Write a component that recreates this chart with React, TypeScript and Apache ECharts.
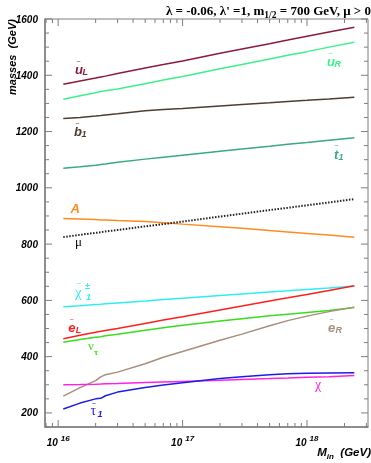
import React, { useEffect, useRef } from "react";
import * as echarts from "echarts";

// M_in (GeV) sample points
const M_IN = [1.1e16, 1.5e16, 2e16, 2.2e16, 2.4e16, 3e16, 5e16, 7e16, 1e17, 2e17, 3e17, 5e17, 7e17, 1e18, 1.5e18, 2.4e18];
// masses (GeV)
const U_L = [1368, 1380, 1390, 1394, 1397, 1406, 1426, 1438, 1451, 1478, 1493, 1512, 1525, 1539, 1554, 1571];
const U_R = [1315, 1327, 1338, 1342, 1345, 1351, 1370, 1383, 1396, 1423, 1438, 1458, 1471, 1484, 1500, 1517];
const B_1 = [1246, 1250, 1255, 1257, 1259, 1263, 1274, 1278, 1282, 1291, 1296, 1302, 1307, 1311, 1316, 1322];
const T_1 = [1070, 1075, 1080, 1083, 1085, 1091, 1102, 1109, 1116, 1130, 1138, 1148, 1155, 1161, 1169, 1178];
const A_H = [891, 889, 887, 886, 886, 884, 880, 876, 871, 862, 856, 848, 843, 838, 832, 824];
const MU = [825, 833, 840, 842, 845, 850, 863, 871, 880, 898, 908, 921, 929, 938, 948, 960];
const CHI_PM = [577, 581, 585, 586, 588, 591, 598, 603, 608, 617, 623, 630, 634, 639, 644, 651];
const E_L = [464, 476, 487, 490, 493, 500, 518, 530, 542, 566, 580, 598, 609, 621, 635, 652];
const NU_TAU = [451, 461, 469, 471, 474, 480, 494, 503, 512, 527, 535, 545, 551, 557, 564, 575];
const E_R = [260, 290, 315, 328, 336, 345, 375, 398, 418, 458, 480, 510, 528, 544, 560, 576];
const CHI_0 = [300, 301, 302, 303, 304, 305, 308, 310, 312, 316, 319, 322, 324, 327, 329, 333];
const TAU_1 = [214, 235, 250, 252, 261, 274, 290, 299, 307, 322, 329, 336, 339, 341, 342, 343];

// axes
const X_MIN = 7.84e15;
const X_MAX = 3.09e18;
const Y_MIN = 150;
const Y_MAX = 1600;
const X_MAJOR = [1e16, 1e17, 1e18];
const X_MINOR = [8e15, 9e15, 2e16, 3e16, 4e16, 5e16, 6e16, 7e16, 8e16, 9e16, 2e17, 3e17, 4e17, 5e17, 6e17, 7e17, 8e17, 9e17, 2e18, 3e18];
const Y_MAJOR = [200, 400, 600, 800, 1000, 1200, 1400, 1600];
const Y_MINOR = [150, 250, 300, 350, 450, 500, 550, 650, 700, 750, 850, 900, 950, 1050, 1100, 1150, 1250, 1300, 1350, 1450, 1500, 1550];

const SANS = "'Liberation Sans', Arial, sans-serif";
const SERIF = "'Liberation Serif', 'Times New Roman', serif";
const AXIS_GREY = "#7f7f7f";

const SERIES = [
  { name: "uL", data: U_L, color: "#8c1b3b" },
  { name: "uR", data: U_R, color: "#3cf08a" },
  { name: "b1", data: B_1, color: "#4d3d33" },
  { name: "t1", data: T_1, color: "#3aa887" },
  { name: "A", data: A_H, color: "#ff8a1f" },
  { name: "chipm", data: CHI_PM, color: "#2eeef2" },
  { name: "eL", data: E_L, color: "#ff1f1f" },
  { name: "nu", data: NU_TAU, color: "#3bdc1e" },
  { name: "eR", data: E_R, color: "#a88e7c" },
  { name: "chi0", data: CHI_0, color: "#ff22e6" },
  { name: "tau1", data: TAU_1, color: "#1c1ce8" },
];

function t(x: number, y: number, text: string, size: number, color: string, family = SANS, style = "italic", weight = "bold") {
  return {
    type: "text",
    x,
    y,
    silent: true,
    style: {
      text,
      fill: color,
      fontSize: size,
      fontFamily: family,
      fontStyle: style,
      fontWeight: weight,
      align: "left",
      verticalAlign: "middle",
      textAlign: "left",
      textVerticalAlign: "middle",
    },
  };
}

function sparticle(x: number, y: number, main: string, sub: string, color: string, opts: any = {}) {
  const size = opts.size || 13;
  const fam = opts.family || SANS;
  const fst = opts.fstyle || "italic";
  const fw = opts.fweight || "bold";
  const els: any[] = [t(x, y, main, size, color, fam, fst, fw)];
  if (opts.tilde !== false) els.push(t(x + (opts.tx ?? 2), y + (opts.ty ?? -8), "~", 7, color, SANS, "normal", "normal"));
  if (sub) els.push(t(x + (opts.sx ?? 7.5), y + (opts.sy ?? 3.5), sub, opts.subSize || 9, color, opts.subFamily || SANS, opts.subStyle || "italic", "bold"));
  if (opts.sup) els.push(t(x + (opts.upx ?? 10), y + (opts.upy ?? -6), opts.sup, 9, color, SANS, "normal", "bold"));
  return { type: "group", children: els };
}

export default function App() {
  const ref = useRef<HTMLDivElement>(null);
  useEffect(() => {
    if (!ref.current) return;
    const chart = echarts.init(ref.current, undefined, { renderer: "svg" });

    const tickData: any[] = [
      ...X_MAJOR.map((v) => [v, Y_MIN, 0]),
      ...X_MINOR.map((v) => [v, Y_MIN, 1]),
      ...Y_MAJOR.map((v) => [X_MIN, v, 2]),
      ...Y_MINOR.map((v) => [X_MIN, v, 3]),
    ];

    const lineSeries = SERIES.map((s) => ({
      type: "line",
      name: s.name,
      showSymbol: false,
      data: M_IN.map((m, i) => [m, s.data[i]]),
      lineStyle: { color: s.color, width: 1.5 },
      itemStyle: { color: s.color },
      silent: true,
      z: 3,
    }));

    const option: any = {
      animation: false,
      grid: {
        left: 45,
        top: 19,
        width: 327,
        height: 408,
        show: true,
        borderColor: AXIS_GREY,
        borderWidth: 1,
        backgroundColor: "transparent",
      },
      xAxis: {
        type: "log",
        logBase: 10,
        min: X_MIN,
        max: X_MAX,
        axisLine: { show: true, lineStyle: { color: AXIS_GREY, width: 1.5 } },
        axisTick: { show: false },
        splitLine: { show: false },
        axisLabel: {
          margin: 7,
          formatter: (v: number) => {
            const e = Math.log10(v);
            if (Math.abs(e - Math.round(e)) < 1e-6) return `{b|10}{s|${Math.round(e)}}`;
            return "";
          },
          rich: {
            b: { fontSize: 10, fontWeight: "bold", fontStyle: "italic", fontFamily: SANS, color: "#000" },
            s: { fontSize: 8, fontWeight: "bold", fontStyle: "italic", fontFamily: SANS, color: "#000", padding: [0, 0, 9, 3] },
          },
        },
      },
      yAxis: {
        type: "value",
        min: Y_MIN,
        max: Y_MAX,
        interval: 50,
        axisLine: { show: true, lineStyle: { color: AXIS_GREY, width: 1.5 } },
        axisTick: { show: false },
        splitLine: { show: false },
        axisLabel: {
          margin: 7,
          fontSize: 10,
          fontWeight: "bold",
          fontStyle: "italic",
          fontFamily: SANS,
          color: "#000",
          formatter: (v: number) => (v % 200 === 0 ? String(v) : ""),
        },
      },
      series: [
        {
          type: "custom",
          name: "ticks",
          silent: true,
          clip: false,
          z: 2,
          data: tickData,
          renderItem: (_p: any, api: any) => {
            const x = api.value(0);
            const y = api.value(1);
            const kind = api.value(2);
            const style = { stroke: AXIS_GREY, lineWidth: 1 };
            if (kind < 2) {
              const len = kind === 0 ? 7 : 4;
              const b = api.coord([x, Y_MIN]);
              const tp = api.coord([x, Y_MAX]);
              return {
                type: "group",
                children: [
                  { type: "line", shape: { x1: b[0], y1: b[1], x2: b[0], y2: b[1] - len }, style },
                  { type: "line", shape: { x1: tp[0], y1: tp[1], x2: tp[0], y2: tp[1] + len }, style },
                ],
              };
            }
            const len = kind === 2 ? 7 : 4;
            const l = api.coord([X_MIN, y]);
            const r = api.coord([X_MAX, y]);
            return {
              type: "group",
              children: [
                { type: "line", shape: { x1: l[0], y1: l[1], x2: l[0] + len, y2: l[1] }, style },
                { type: "line", shape: { x1: r[0], y1: r[1], x2: r[0] - len, y2: r[1] }, style },
              ],
            };
          },
        },
        ...lineSeries,
        {
          type: "line",
          name: "mu",
          showSymbol: false,
          data: M_IN.map((m, i) => [m, MU[i]]),
          lineStyle: { color: "#222", width: 2, type: [1.5, 1.5] },
          silent: true,
          z: 4,
        },
      ],
      graphic: [
        {
          type: "text",
          x: 371,
          y: 10,
          silent: true,
          style: {
            text: "{a|λ = -0.06, λ' =1, m}{s|1/2}{a| = 700 GeV, μ > 0}",
            align: "right",
            verticalAlign: "middle",
            textAlign: "right",
            textVerticalAlign: "middle",
            rich: {
              a: { fontSize: 13, fontWeight: "bold", fontFamily: SERIF, color: "#000" },
              s: { fontSize: 9.5, fontWeight: "bold", fontFamily: SERIF, color: "#000", padding: [9, 0, 0, 0] },
            },
          },
        },
        {
          type: "text",
          x: 11.5,
          y: 57,
          rotation: Math.PI / 2,
          silent: true,
          style: {
            text: "masses  (GeV)",
            fill: "#000",
            fontSize: 11,
            fontWeight: "bold",
            fontStyle: "italic",
            fontFamily: SANS,
            align: "center",
            verticalAlign: "middle",
            textAlign: "center",
            textVerticalAlign: "middle",
          },
        },
        {
          type: "text",
          x: 371,
          y: 452,
          silent: true,
          style: {
            text: "{m|M}{s|in}{m|  (GeV)}",
            align: "right",
            verticalAlign: "middle",
            textAlign: "right",
            textVerticalAlign: "middle",
            rich: {
              m: { fontSize: 11.5, fontWeight: "bold", fontStyle: "italic", fontFamily: SANS, color: "#000" },
              s: { fontSize: 8, fontWeight: "bold", fontStyle: "italic", fontFamily: SANS, color: "#000", padding: [8, 0, 0, 0] },
            },
          },
        },
        sparticle(75, 69, "u", "L", "#8c1b3b", { tx: 1.5, ty: -8, sx: 7.5, sy: 3 }),
        sparticle(327, 61, "u", "R", "#3cf08a", { tx: 1.5, ty: -8, sx: 7.5, sy: 3 }),
        sparticle(74, 131, "b", "1", "#4d3d33", { tx: 1.5, ty: -8, sx: 7.5, sy: 3 }),
        sparticle(334, 154, "t", "1", "#3aa887", { tx: 0.5, ty: -9, sx: 4.5, sy: 3 }),
        sparticle(70.5, 208, "A", "", "#ff8a1f", { tilde: false }),
        sparticle(75, 241, "μ", "", "#000", { tilde: false, family: SERIF, fstyle: "normal", fweight: "normal", size: 13 }),
        sparticle(75, 292, "χ", "1", "#2eeef2", { family: SERIF, fstyle: "normal", fweight: "normal", size: 15, tx: 2, ty: -9, sx: 11, sy: 4.5, sup: "±", upx: 10, upy: -6 }),
        sparticle(68.3, 327, "e", "L", "#ff1f1f", { tx: 1.5, ty: -8, sx: 7.5, sy: 3 }),
        sparticle(88, 345, "ν", "τ", "#3bdc1e", { family: SERIF, fstyle: "normal", fweight: "normal", size: 13, tx: 1, ty: -8, sx: 6, sy: 7, subFamily: SERIF, subStyle: "normal" }),
        sparticle(328, 327, "e", "R", "#a88e7c", { tx: 1.5, ty: -8, sx: 7.5, sy: 3 }),
        sparticle(315, 384, "χ", "", "#ff22e6", { tilde: false, family: SERIF, fstyle: "normal", fweight: "normal", size: 14 }),
        sparticle(90.5, 410, "τ", "1", "#1c1ce8", { family: SERIF, fstyle: "normal", fweight: "normal", size: 14, tx: 1.5, ty: -7, sx: 7, sy: 4 }),
      ],
    };

    chart.setOption(option);
    return () => chart.dispose();
  }, []);

  return <div ref={ref} style={{ position: "fixed", left: 0, top: 0, width: 371, height: 463 }} />;
}
